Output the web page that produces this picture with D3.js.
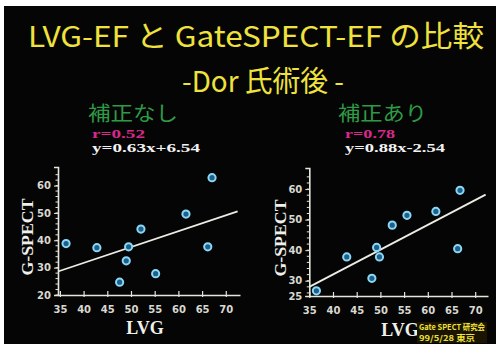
<!DOCTYPE html>
<html><head><meta charset="utf-8">
<script src="https://cdn.jsdelivr.net/npm/d3@7"></script>
<style>html,body{margin:0;padding:0;background:#fff;}svg{display:block;}</style>
</head><body>
<script>
// ---- data ----
const titleLines = ["LVG-EF と GateSPECT-EF の比較", "-Dor 氏術後 -"];
const panelTitles = ["補正なし", "補正あり"];
const rLabels = ["r=0.52", "r=0.78"];
const eqLabels = ["y=0.63x+6.54", "y=0.88x-2.54"];
const xTicks = [35, 40, 45, 50, 55, 60, 65, 70];
const yTicksLeft = [20, 30, 40, 50, 60];
const yTicksRight = [25, 30, 40, 50, 60];
const lvgLeft  = [36.3, 42.8, 47.6, 49.0, 49.5, 52.1, 55.2, 61.6, 66.2, 67.1];
const gsLeft   = [38.8, 37.3, 24.7, 32.5, 37.6, 44.1, 27.8, 49.6, 37.6, 62.9];
const lvgRight = [36.5, 42.9, 48.2, 49.2, 49.8, 52.5, 55.6, 61.7, 66.3, 66.8];
const gsRight  = [26.7, 37.8, 30.8, 40.9, 37.8, 48.2, 51.4, 52.7, 40.5, 59.6];
const fitLeftX = [34.6, 72.5], fitLeftY = [28.6, 50.6];
const fitRightX = [35, 72.2], fitRightY = [28.0, 58.2];
const stamp = ["Gate SPECT 研究会", "99/5/28  東京"];

const W = 501, H = 348;
const svg = d3.select("body").append("svg").attr("width", W).attr("height", H);
svg.append("rect").attr("x", 4).attr("y", 6).attr("width", 492).attr("height", 338).attr("fill", "#050505");

const yellow = "#efe23c";
const tf = "'Noto Sans CJK JP','Noto Sans',sans-serif";
svg.append("text").attr("x", 256).attr("y", 47).attr("text-anchor", "middle")
  .attr("font-family", tf).attr("font-size", 29).attr("fill", yellow)
  .attr("textLength", 456).attr("lengthAdjust", "spacingAndGlyphs").text(titleLines[0]);
svg.append("text").attr("x", 263).attr("y", 92).attr("text-anchor", "middle")
  .attr("font-family", tf).attr("font-size", 29).attr("fill", yellow)
  .attr("textLength", 162).attr("lengthAdjust", "spacingAndGlyphs").text(titleLines[1]);

const panels = [
  {x0: 34.6, x1: 73, xr: [58, 240], y0: 20, y1: 66.8, yr: [295, 167], yTicks: yTicksLeft,
   minor: d3.range(20, 66, 2), lvg: lvgLeft, gs: gsLeft, fx: fitLeftX, fy: fitLeftY,
   tx: 88, tw: 90, rx: 92, rw: 53, ew: 108, gx: 27, gy: 237, lx: 145, ly: 334},
  {x0: 35, x1: 72.7, xr: [309.3, 488], y0: 25, y1: 66.9, yr: [296, 168], yTicks: yTicksRight,
   minor: d3.range(26, 66, 2), lvg: lvgRight, gs: gsRight, fx: fitRightX, fy: fitRightY,
   tx: 338, tw: 89, rx: 345, rw: 50, ew: 100, gx: 280, gy: 238, lx: 400, ly: 336}
];

const serif = "'Liberation Serif','DejaVu Serif',serif";
const axisCol = "#e6e6dc";

panels.forEach((p, i) => {
  const x = d3.scaleLinear().domain([p.x0, p.x1]).range(p.xr);
  const y = d3.scaleLinear().domain([p.y0, p.y1]).range(p.yr);
  const g = svg.append("g");

  g.append("text").attr("x", p.tx).attr("y", 121).attr("font-family", tf).attr("font-size", 20)
    .attr("fill", "#2f9a45").attr("textLength", p.tw).attr("lengthAdjust", "spacingAndGlyphs").text(panelTitles[i]);
  g.append("text").attr("x", p.rx).attr("y", 138).attr("font-family", serif).attr("font-weight", "bold")
    .attr("font-size", 12).attr("fill", "#d8288a").attr("textLength", p.rw).attr("lengthAdjust", "spacingAndGlyphs").text(rLabels[i]);
  g.append("text").attr("x", p.rx).attr("y", 152).attr("font-family", serif).attr("font-weight", "bold")
    .attr("font-size", 13).attr("fill", "#f2f2f2").attr("textLength", p.ew).attr("lengthAdjust", "spacingAndGlyphs").text(eqLabels[i]);

  // x axis
  const xa = g.append("g").attr("transform", `translate(0,${p.yr[0]})`)
    .call(d3.axisBottom(x).tickValues(xTicks).tickSize(0).tickPadding(11));
  xa.select(".domain").attr("stroke", axisCol).attr("stroke-width", 1.6);
  xa.selectAll(".tick").append("line").attr("y1", -4).attr("y2", 2).attr("stroke", axisCol).attr("stroke-width", 1.2);
  xa.selectAll("text").attr("fill", "#d8d8d0").attr("font-family", "'DejaVu Sans',sans-serif")
    .attr("font-size", 10).attr("font-weight", "bold");

  // y axis
  const ya = g.append("g").attr("transform", `translate(${p.xr[0]},0)`)
    .call(d3.axisLeft(y).tickValues(p.yTicks).tickSize(4).tickPadding(3));
  ya.select(".domain").attr("stroke", axisCol).attr("stroke-width", 1.6);
  ya.selectAll(".tick line").attr("stroke", axisCol);
  ya.selectAll("text").attr("fill", "#d8d8d0").attr("font-family", "'DejaVu Sans',sans-serif")
    .attr("font-size", 10).attr("font-weight", "bold");
  g.selectAll(".minor").data(p.minor).join("line")
    .attr("x1", p.xr[0] - 2.5).attr("x2", p.xr[0]).attr("y1", d => y(d)).attr("y2", d => y(d))
    .attr("stroke", axisCol).attr("stroke-width", 1);

  // fit line
  g.append("line").attr("x1", x(p.fx[0])).attr("y1", y(p.fy[0])).attr("x2", x(p.fx[1])).attr("y2", y(p.fy[1]))
    .attr("stroke", "#ecece4").attr("stroke-width", 1.8);

  // points
  g.selectAll(".pt").data(p.lvg.map((v, k) => [v, p.gs[k]])).join("circle")
    .attr("cx", d => x(d[0])).attr("cy", d => y(d[1])).attr("r", 3.6)
    .attr("fill", "#1f5f8a").attr("stroke", "#8ad8f5").attr("stroke-width", 2);

  // axis titles
  g.append("text").attr("transform", `translate(${p.gx + 6},${p.gy}) rotate(-90)`).attr("text-anchor", "middle")
    .attr("font-family", serif).attr("font-weight", "bold").attr("font-size", 17).attr("fill", "#f0f0ea")
    .attr("textLength", 77).attr("lengthAdjust", "spacingAndGlyphs").text("G-SPECT");
  g.append("text").attr("x", p.lx).attr("y", p.ly).attr("text-anchor", "middle")
    .attr("font-family", serif).attr("font-weight", "bold").attr("font-size", 18).attr("fill", "#f0f0ea").text("LVG");
});

// stamp
svg.append("rect").attr("x", 417).attr("y", 322).attr("width", 70).attr("height", 21).attr("fill", "#1a1400");
svg.append("text").attr("x", 419).attr("y", 330).attr("font-family", "'Noto Sans CJK JP',sans-serif").attr("font-weight", "bold")
  .attr("font-size", 8).attr("fill", yellow).attr("textLength", 66).attr("lengthAdjust", "spacingAndGlyphs").text(stamp[0]);
svg.append("text").attr("x", 419).attr("y", 341).attr("font-family", "'Noto Sans CJK JP',sans-serif").attr("font-weight", "bold")
  .attr("font-size", 8).attr("fill", yellow).attr("textLength", 56).attr("lengthAdjust", "spacingAndGlyphs").text(stamp[1]);
</script>
</body></html>
